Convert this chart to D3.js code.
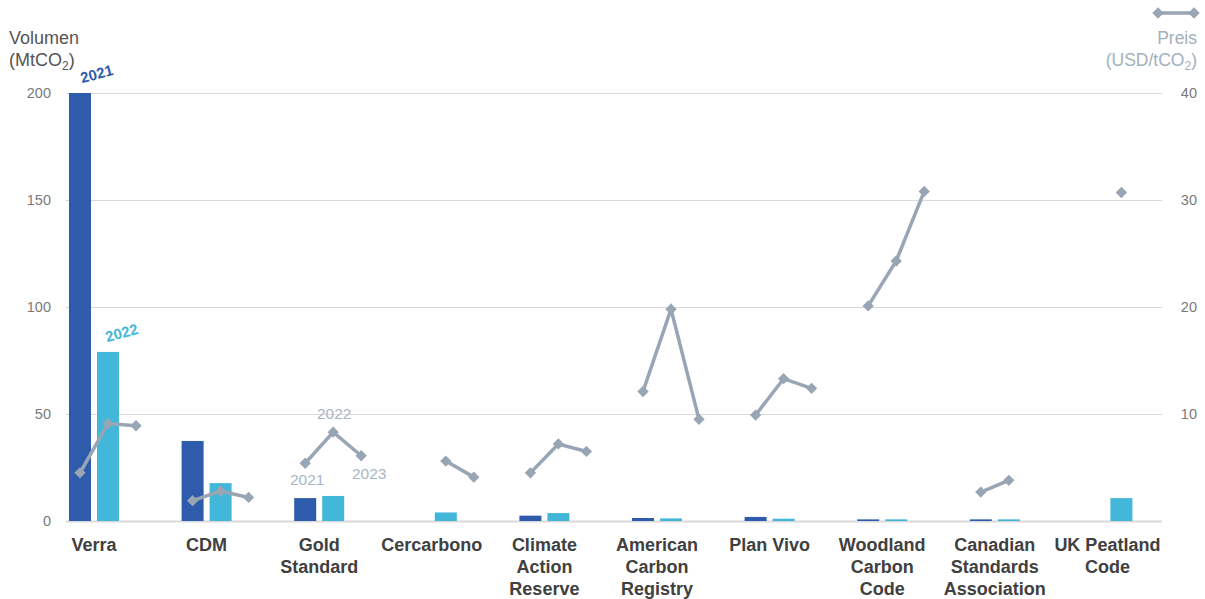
<!DOCTYPE html>
<html>
<head>
<meta charset="utf-8">
<script src="https://cdn.jsdelivr.net/npm/d3@7"></script>
<style>
  body { margin: 0; background: #fff; }
  svg { font-family: "Liberation Sans", Arial, sans-serif; }
</style>
</head>
<body>
<svg id="chart" width="1205" height="599"></svg>
<script>
// registries and their label lines
const registries = ["Verra", "CDM", "Gold Standard", "Cercarbono", "Climate Action Reserve",
  "American Carbon Registry", "Plan Vivo", "Woodland Carbon Code", "Canadian Standards Association", "UK Peatland Code"];
const labelLines = [["Verra"], ["CDM"], ["Gold", "Standard"], ["Cercarbono"], ["Climate", "Action", "Reserve"],
  ["American", "Carbon", "Registry"], ["Plan Vivo"], ["Woodland", "Carbon", "Code"],
  ["Canadian", "Standards", "Association"], ["UK Peatland", "Code"]];
const years = ["2021", "2022", "2023"];

// volume MtCO2
const vol2021 = [200, 37.4, 10.7, 0, 2.5, 1.4, 1.9, 0.3, 0.3, 0];
const vol2022 = [79, 17.7, 11.7, 4, 3.7, 1.2, 0.6, 0.3, 0.3, 10.7];

// price USD/tCO2
const price2021 = [4.5, 1.9, 5.4, null, 4.5, 12.1, 9.9, 20.1, 2.7, null];
const price2022 = [9.1, 2.8, 8.3, 5.6, 7.2, 19.8, 13.3, 24.3, 3.8, 30.7];
const price2023 = [8.9, 2.2, 6.1, 4.1, 6.5, 9.5, 12.4, 30.8, null, null];

const leftTicks = [0, 50, 100, 150, 200];
const rightTicks = [10, 20, 30, 40];

const c2021 = "#2f5bad", c2022 = "#42b7da", cLine = "#97a5b4", cGrid = "#d9d9d9";

const svg = d3.select("#chart");
const plotLeft = 66, plotRight = 1162, plotTop = 93, plotBottom = 521;

const x = d3.scaleBand().domain(registries).range([37.7, 1163.7]);
const xYear = d3.scalePoint().domain(years).range([-14, 42]);
const y = d3.scaleLinear().domain([0, 200]).range([plotBottom, plotTop]);
const y2 = d3.scaleLinear().domain([0, 40]).range([plotBottom, plotTop]);
const barW = 22;
const cx = (reg, yr) => x(reg) + x.bandwidth() / 2 + xYear(yr);

// left axis with gridlines
const gl = svg.append("g").attr("transform", `translate(${plotLeft},0)`)
  .call(d3.axisLeft(y).tickValues(leftTicks).tickSize(-(plotRight - plotLeft)).tickPadding(15));
gl.select(".domain").remove();
gl.selectAll(".tick line").attr("stroke", cGrid).attr("stroke-width", d => d === 0 ? 2 : 1);
gl.selectAll(".tick text").attr("fill", "#7a7a7a").style("font-size", "14.5px")
  .style("font-family", "'Liberation Sans', Arial, sans-serif");

// right axis
const gr = svg.append("g").attr("transform", `translate(${plotRight},0)`)
  .call(d3.axisRight(y2).tickValues(rightTicks).tickSize(0));
gr.select(".domain").remove();
gr.selectAll(".tick text").attr("fill", "#7a7a7a").attr("x", 35).attr("text-anchor", "end")
  .style("font-size", "14.5px").style("font-family", "'Liberation Sans', Arial, sans-serif");

// bars
const barData = [];
registries.forEach((r, i) => {
  barData.push({ reg: r, yr: "2021", v: vol2021[i], c: c2021 });
  barData.push({ reg: r, yr: "2022", v: vol2022[i], c: c2022 });
});
svg.append("g").selectAll("rect").data(barData.filter(d => d.v > 0)).join("rect")
  .attr("x", d => cx(d.reg, d.yr) - barW / 2)
  .attr("width", barW)
  .attr("y", d => y(d.v) - (d.v < 1 ? 1 : 0))
  .attr("height", d => plotBottom - y(d.v) + (d.v < 1 ? 1 : 0))
  .attr("fill", d => d.c);

// price lines
const line = d3.line().defined(d => d.v != null).x(d => cx(d.reg, d.yr)).y(d => y2(d.v));
const priceRows = registries.map((r, i) => [
  { reg: r, yr: "2021", v: price2021[i] },
  { reg: r, yr: "2022", v: price2022[i] },
  { reg: r, yr: "2023", v: price2023[i] }
]);
const lg = svg.append("g");
lg.selectAll("path.ln").data(priceRows).join("path").attr("class", "ln")
  .attr("d", line).attr("fill", "none").attr("stroke", cLine).attr("stroke-width", 3.5);
const diamond = d3.symbol(d3.symbolSquare, 64);
lg.selectAll("path.pt").data(priceRows.flat().filter(d => d.v != null)).join("path")
  .attr("class", "pt").attr("d", diamond).attr("fill", cLine)
  .attr("transform", d => `translate(${cx(d.reg, d.yr)},${y2(d.v)}) rotate(45)`);

// year annotations at Verra bars
svg.append("text").text("2021").attr("fill", c2021).style("font-weight", "bold").style("font-size", "15px")
  .attr("text-anchor", "middle")
  .attr("transform", `translate(${cx("Verra", "2021") + 18},${y(vol2021[0]) - 14}) rotate(-15)`);
svg.append("text").text("2022").attr("fill", c2022).style("font-weight", "bold").style("font-size", "15px")
  .attr("text-anchor", "middle")
  .attr("transform", `translate(${cx("Verra", "2022") + 15},${y(vol2022[0]) - 14}) rotate(-15)`);

// year annotations at Gold Standard line
const gsIdx = 2;
const gsAnn = [
  { yr: "2021", v: price2021[gsIdx], dx: 2, dy: 22 },
  { yr: "2022", v: price2022[gsIdx], dx: 1, dy: -13 },
  { yr: "2023", v: price2023[gsIdx], dx: 8, dy: 23 }
];
svg.append("g").selectAll("text").data(gsAnn).join("text")
  .attr("x", d => cx("Gold Standard", d.yr) + d.dx)
  .attr("y", d => y2(d.v) + d.dy)
  .attr("text-anchor", "middle").attr("fill", "#a9b5c3").style("font-size", "15.5px")
  .text(d => d.yr);

// category labels
svg.append("g").selectAll("text").data(registries).join("text")
  .attr("text-anchor", "middle").attr("fill", "#404040")
  .style("font-size", "18px").style("font-weight", "bold")
  .each(function(d, i) {
    d3.select(this).selectAll("tspan").data(labelLines[i]).join("tspan")
      .attr("x", x(d) + x.bandwidth() / 2)
      .attr("y", (t, j) => 551 + j * 22)
      .text(t => t);
  });

// left title
const lt = svg.append("g").attr("fill", "#555").style("font-size", "18px");
lt.append("text").attr("x", 9).attr("y", 44).text("Volumen");
const lt2 = lt.append("text").attr("x", 9).attr("y", 66);
lt2.append("tspan").text("(MtCO");
lt2.append("tspan").text("2").style("font-size", "12px").attr("dy", 4);
lt2.append("tspan").text(")").attr("dy", -4);

// right title and legend
const rt = svg.append("g").attr("fill", "#a3b0be").style("font-size", "17.5px").attr("text-anchor", "end");
rt.append("text").attr("x", 1197).attr("y", 44).text("Preis");
const rt2 = rt.append("text").attr("x", 1197).attr("y", 66);
rt2.append("tspan").text("(USD/tCO");
rt2.append("tspan").text("2").style("font-size", "12px").attr("dy", 4);
rt2.append("tspan").text(")").attr("dy", -4);

svg.append("line").attr("x1", 1158).attr("x2", 1194).attr("y1", 13).attr("y2", 13)
  .attr("stroke", cLine).attr("stroke-width", 3.5);
[1158, 1194].forEach(px => {
  svg.append("path").attr("d", diamond).attr("fill", cLine)
    .attr("transform", `translate(${px},13) rotate(45)`);
});
</script>
</body>
</html>
